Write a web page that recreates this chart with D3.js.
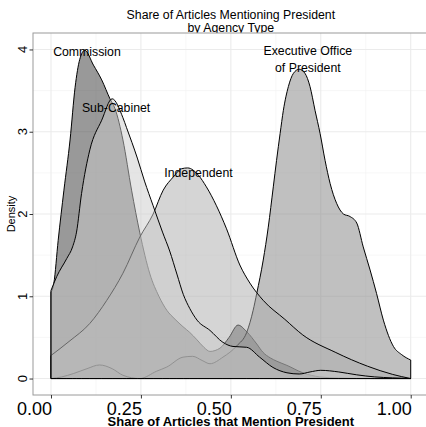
<!DOCTYPE html>
<html>
<head>
<meta charset="utf-8">
<script src="https://cdn.jsdelivr.net/npm/d3@7"></script>
<style>
  html, body { margin: 0; padding: 0; background: #fff; }
  svg { display: block; }
  text { font-family: "Liberation Sans", Arial, Helvetica, sans-serif; fill: #000; }
</style>
</head>
<body>
<svg id="chart" width="426" height="427"></svg>
<script>
// ---------------- data ----------------
const titleLines = ["Share of Articles Mentioning President", "by Agency Type"];
const xTitle = "Share of Articles that Mention President";
const yTitle = "Density";

const xTicks = [0, 0.25, 0.5, 0.75, 1];
const xTickLabels = ["0.00", "0.25", "0.50", "0.75", "1.00"];
const yTicks = [0, 1, 2, 3, 4];
const yTickLabels = ["0", "1", "2", "3", "4"];

// series are drawn in this (factor) order
const groups = ["Commission", "Executive Office of President", "Independent", "Sub-Cabinet"];
const groupFills = ["#333333", "#818181", "#ababab", "#cccccc"];

const commissionX = [0, 0.008, 0.02, 0.036, 0.053, 0.067, 0.08, 0.094, 0.118, 0.141, 0.164, 0.178, 0.2, 0.224, 0.247, 0.275, 0.3, 0.322, 0.345, 0.367, 0.386, 0.406, 0.425, 0.442, 0.47, 0.495, 0.52, 0.544, 0.572, 0.589, 0.61, 0.628, 0.656, 0.7, 0.747, 0.8, 0.9, 1.0];
const commissionY = [1.05, 1.16, 1.68, 2.29, 2.9, 3.54, 3.88, 3.99, 3.81, 3.63, 3.40, 3.28, 2.9, 2.29, 1.77, 1.27, 1.0, 0.83, 0.72, 0.63, 0.56, 0.47, 0.38, 0.33, 0.37, 0.5, 0.65, 0.57, 0.42, 0.32, 0.25, 0.21, 0.16, 0.07, 0.02, 0.005, 0, 0];

const execX = [0, 0.03, 0.062, 0.1, 0.135, 0.17, 0.2, 0.247, 0.294, 0.322, 0.367, 0.394, 0.42, 0.442, 0.478, 0.517, 0.544, 0.562, 0.572, 0.59, 0.604, 0.618, 0.627, 0.637, 0.646, 0.66, 0.674, 0.69, 0.706, 0.72, 0.734, 0.748, 0.762, 0.776, 0.794, 0.813, 0.831, 0.85, 0.868, 0.887, 0.905, 0.924, 0.952, 0.975, 1.0];
const execY = [0, 0.02, 0.06, 0.12, 0.165, 0.12, 0.04, 0.0, 0.09, 0.14, 0.26, 0.27, 0.22, 0.18, 0.26, 0.4, 0.56, 0.83, 1.035, 1.44, 1.84, 2.33, 2.65, 2.98, 3.26, 3.55, 3.71, 3.76, 3.71, 3.55, 3.26, 2.98, 2.65, 2.37, 2.13, 2.0, 1.97, 1.89, 1.6, 1.32, 1.035, 0.71, 0.39, 0.29, 0.225];

const indepX = [0, 0.05, 0.108, 0.155, 0.2, 0.247, 0.284, 0.312, 0.34, 0.363, 0.38, 0.41, 0.432, 0.46, 0.488, 0.525, 0.553, 0.59, 0.65, 0.7, 0.79, 0.88, 0.95, 1.0];
const indepY = [0.28, 0.45, 0.67, 0.95, 1.28, 1.72, 2.0, 2.29, 2.45, 2.55, 2.56, 2.47, 2.33, 2.1, 1.82, 1.38, 1.16, 0.95, 0.72, 0.53, 0.32, 0.15, 0.05, 0];

const subX = [0, 0.016, 0.044, 0.06, 0.071, 0.085, 0.108, 0.141, 0.17, 0.2, 0.21, 0.24, 0.26, 0.284, 0.31, 0.33, 0.35, 0.368, 0.386, 0.406, 0.442, 0.478, 0.506, 0.544, 0.58, 0.617, 0.656, 0.69, 0.72, 0.75, 0.8, 0.85, 0.9, 0.95, 1.0];
const subY = [1.07, 1.24, 1.46, 1.6, 1.78, 2.25, 2.78, 3.14, 3.40, 3.17, 3.05, 2.68, 2.4, 2.1, 1.78, 1.55, 1.27, 1.02, 0.85, 0.71, 0.585, 0.44, 0.39, 0.38, 0.26, 0.135, 0.07, 0.055, 0.08, 0.1, 0.08, 0.045, 0.02, 0.008, 0];

// text labels placed in data coordinates
const labelTexts = [["Commission"], ["Sub-Cabinet"], ["Independent"], ["Executive Office", "of President"]];
const labelX = [0.1, 0.181, 0.41, 0.714];
const labelY = [3.97, 3.29, 2.5, 3.88];

// ---------------- layout ----------------
const seriesX = [commissionX, execX, indepX, subX];
const seriesY = [commissionY, execY, indepY, subY];

const panel = { left: 33, top: 33, right: 428.7, bottom: 395 };
const x = d3.scaleLinear().domain([-0.05, 1.05]).range([panel.left, panel.right]);
const y = d3.scaleLinear().domain([-0.2, 4.2]).range([panel.bottom, panel.top]);

const svg = d3.select("#chart");
const FONT = '"Liberation Sans", Arial, Helvetica, sans-serif';

// title
const title = svg.append("text")
  .attr("text-anchor", "middle")
  .style("font-size", "12.3px");
title.selectAll("tspan").data(titleLines).enter().append("tspan")
  .attr("x", (panel.left + panel.right) / 2)
  .attr("y", (d, i) => 18.5 + i * 13)
  .text(d => d);

// panel background + grid
const g = svg.append("g");
g.append("rect")
  .attr("x", panel.left).attr("y", panel.top)
  .attr("width", panel.right - panel.left).attr("height", panel.bottom - panel.top)
  .attr("fill", "#fff");

const xMinor = d3.range(xTicks.length - 1).map(i => (xTicks[i] + xTicks[i + 1]) / 2);
const yMinor = d3.range(yTicks.length - 1).map(i => (yTicks[i] + yTicks[i + 1]) / 2);

g.selectAll(".xminor").data(xMinor).enter().append("line")
  .attr("x1", d => x(d)).attr("x2", d => x(d))
  .attr("y1", panel.top).attr("y2", panel.bottom)
  .attr("stroke", "#f2f2f2").attr("stroke-width", 0.6);
g.selectAll(".yminor").data(yMinor).enter().append("line")
  .attr("y1", d => y(d)).attr("y2", d => y(d))
  .attr("x1", panel.left).attr("x2", panel.right)
  .attr("stroke", "#f2f2f2").attr("stroke-width", 0.6);
g.selectAll(".xmajor").data(xTicks).enter().append("line")
  .attr("x1", d => x(d)).attr("x2", d => x(d))
  .attr("y1", panel.top).attr("y2", panel.bottom)
  .attr("stroke", "#ebebeb").attr("stroke-width", 1.1);
g.selectAll(".ymajor").data(yTicks).enter().append("line")
  .attr("y1", d => y(d)).attr("y2", d => y(d))
  .attr("x1", panel.left).attr("x2", panel.right)
  .attr("stroke", "#ebebeb").attr("stroke-width", 1.1);

// densities
const area = d3.area()
  .x(d => x(d[0]))
  .y0(y(0))
  .y1(d => y(d[1]))
  .curve(d3.curveMonotoneX);

groups.forEach((name, i) => {
  const pts = seriesX[i].map((v, j) => [v, seriesY[i][j]]);
  svg.append("path")
    .datum(pts)
    .attr("d", area)
    .attr("fill", groupFills[i])
    .attr("fill-opacity", 0.5)
    .attr("stroke", "#000")
    .attr("stroke-width", 1)
    .attr("stroke-linejoin", "round");
});

// labels
labelTexts.forEach((lines, i) => {
  const t = svg.append("text")
    .attr("text-anchor", "middle")
    .style("font-size", "12.3px");
  const n = lines.length;
  t.selectAll("tspan").data(lines).enter().append("tspan")
    .attr("x", x(labelX[i]))
    .attr("y", (d, k) => y(labelY[i]) + 4.4 + (k - (n - 1) / 2) * 17.5)
    .text(d => d);
});

// panel border
svg.append("rect")
  .attr("x", panel.left).attr("y", panel.top)
  .attr("width", panel.right - panel.left).attr("height", panel.bottom - panel.top)
  .attr("fill", "none").attr("stroke", "#9a9a9a").attr("stroke-width", 1);

// axes (ticks via d3 axes, labels drawn explicitly)
const xAxis = d3.axisBottom(x).tickValues(xTicks).tickFormat("").tickSize(3.5);
const xg = svg.append("g").attr("transform", `translate(0,${panel.bottom})`).call(xAxis);
xg.select(".domain").remove();
xg.selectAll(".tick line").attr("stroke", "#333");

svg.append("g").selectAll("text").data(xTicks).enter().append("text")
  .attr("x", d => x(d) + 1)
  .attr("y", 414.5)
  .attr("text-anchor", "end")
  .style("font-size", "18px")
  .style("font-family", FONT)
  .text((d, i) => xTickLabels[i]);

const yAxis = d3.axisLeft(y).tickValues(yTicks).tickFormat("").tickSize(3.5);
const yg = svg.append("g").attr("transform", `translate(${panel.left},0)`).call(yAxis);
yg.select(".domain").remove();
yg.selectAll(".tick line").attr("stroke", "#333");

svg.append("g").selectAll("text").data(yTicks).enter().append("text")
  .attr("x", 27)
  .attr("y", d => y(d))
  .attr("transform", d => `rotate(-90, 27, ${y(d)})`)
  .attr("text-anchor", "middle")
  .style("font-size", "13px")
  .style("font-family", FONT)
  .text((d, i) => yTickLabels[i]);

// axis titles
svg.append("text")
  .attr("x", (panel.left + panel.right) / 2)
  .attr("y", 425.5)
  .attr("text-anchor", "middle")
  .style("font-size", "13px")
  .style("font-weight", "bold")
  .text(xTitle);

svg.append("text")
  .attr("transform", `translate(15,${(panel.top + panel.bottom) / 2}) rotate(-90)`)
  .attr("text-anchor", "middle")
  .style("font-size", "11px")
  .text(yTitle);
</script>
</body>
</html>
